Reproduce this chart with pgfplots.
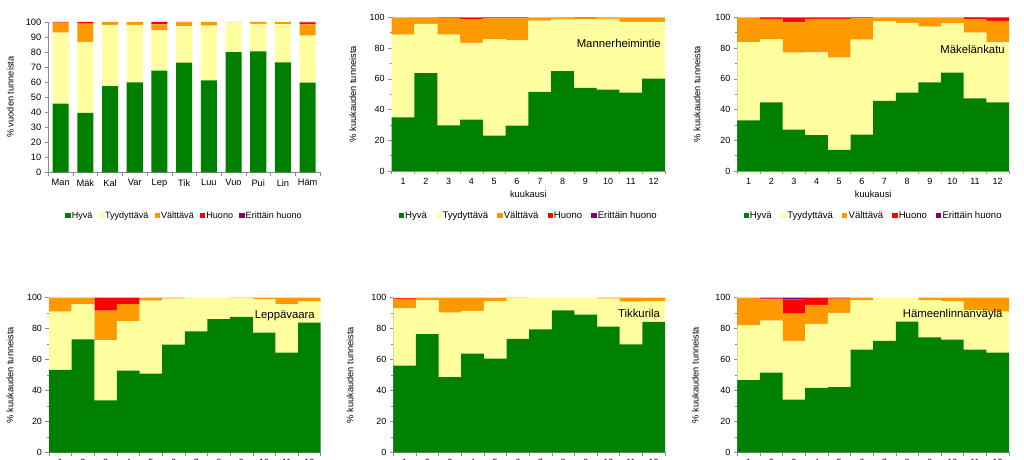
\documentclass[border=0pt]{standalone}
\usepackage{pgfplots}
\pgfplotsset{compat=1.18}
\usepackage{pgfplotstable}
\usepackage{fontspec}
\setmainfont{Liberation Sans}

\definecolor{cH}{RGB}{0,128,0}
\definecolor{cT}{RGB}{255,255,160}
\definecolor{cV}{RGB}{255,153,0}
\definecolor{cHu}{RGB}{255,0,0}
\definecolor{cE}{RGB}{128,0,128}

\pgfplotstableread{
x h t v hu eh
0 45.7 47.2 6.7 0.4 0
1 39.5 47.2 12.2 1.0 0.1
2 57.4 40.6 2.0 0 0
3 59.9 38.1 2.0 0 0
4 67.6 26.9 3.9 1.6 0
5 72.9 24.2 2.7 0.2 0
6 61.2 36.4 2.4 0 0
7 80.0 19.8 0.2 0 0
8 80.5 18.2 1.3 0 0
9 73.2 25.2 1.6 0 0
10 59.6 31.3 7.5 1.4 0.2
}\annual

\pgfplotstableread{
x h t v hu eh
1 34.9 53.8 11.3 0 0
2 63.6 32.1 4.1 0.2 0
3 29.7 59.0 10.8 0.5 0
4 33.4 49.9 15.5 1.0 0.2
5 23.0 62.7 13.6 0.6 0.1
6 29.5 55.5 14.3 0.6 0.1
7 51.4 46.4 2.2 0 0
8 64.9 33.8 1.3 0 0
9 54.0 44.7 0.9 0.1 0.3
10 52.9 46.0 1.1 0 0
11 51.0 46.0 3.0 0 0
12 60.1 36.9 3.0 0 0
}\mann

\pgfplotstableread{
x h t v hu eh
1 33.0 50.9 16.1 0 0
2 44.7 41.0 13.2 1.0 0.1
3 26.9 50.1 19.7 3.0 0.3
4 23.4 53.8 21.7 0.8 0.3
5 13.7 60.1 25.1 0.9 0.2
6 23.6 61.9 13.8 0.6 0.1
7 45.6 51.8 2.6 0 0
8 51.0 45.3 3.7 0 0
9 57.7 36.2 6.1 0 0
10 64.0 32.1 3.9 0 0
11 47.3 42.7 8.7 0.7 0.6
12 44.7 39.0 13.9 2.4 0
}\makel

\pgfplotstableread{
x h t v hu eh
1 53.5 37.5 9.0 0 0
2 73.1 22.8 4.1 0 0
3 33.8 38.9 18.9 8.4 0
4 52.9 32.0 11.0 4.1 0
5 51.0 47.1 1.9 0 0
6 69.7 29.7 0.6 0 0
7 78.3 21.7 0 0 0
8 86.2 13.8 0 0 0
9 87.7 12.0 0.3 0 0
10 77.4 21.5 1.1 0 0
11 64.5 31.2 4.3 0 0
12 83.9 13.7 2.4 0 0
}\lepp

\pgfplotstableread{
x h t v hu eh
1 56.0 37.1 6.3 0.6 0
2 76.5 22.0 1.5 0 0
3 48.7 41.6 9.7 0 0
4 63.8 27.6 8.6 0 0
5 60.6 37.0 2.4 0 0
6 73.3 26.5 0.2 0 0
7 79.5 20.5 0 0 0
8 91.8 8.2 0 0 0
9 89.0 11.0 0 0 0
10 81.3 18.1 0.6 0 0
11 69.8 27.6 2.6 0 0
12 84.3 13.5 2.2 0 0
}\tikk

\pgfplotstableread{
x h t v hu eh
1 46.6 35.5 17.9 0 0
2 51.5 33.6 13.8 0.6 0.5
3 34.1 37.9 17.7 9.2 1.1
4 41.6 41.4 12.3 4.7 0
5 42.2 47.9 9.3 0.6 0
6 66.4 32.1 1.5 0 0
7 72.0 28.0 0 0 0
8 84.5 15.5 0 0 0
9 74.4 24.1 1.5 0 0
10 72.8 24.8 2.4 0 0
11 66.4 25.6 8.0 0 0
12 64.4 26.6 9.0 0 0
}\hame

\newcommand{\fiveplots}[1]{%
\addplot[fill=cH] table[x=x,y=h]{#1};
\addplot[fill=cT] table[x=x,y=t]{#1};
\addplot[fill=cV] table[x=x,y=v]{#1};
\addplot[fill=cHu] table[x=x,y=hu]{#1};
\addplot[fill=cE] table[x=x,y=eh]{#1};
}

\pgfplotsset{
 panel/.style={
  scale only axis,
  ybar stacked, ymin=0, ymax=100,
  axis x line*=bottom, axis y line*=left,
  axis line style={draw=gray!90, -},
  tick style={draw=gray!90, line width=0.5bp},
  tick align=outside, major tick length=3.5bp, minor tick length=2bp,
  ticklabel style={font=\fontsize{9}{10}\selectfont},
  /pgf/number format/assume math mode=true,
  label style={font=\fontsize{9.3}{10}\selectfont},
  every axis plot/.append style={draw=none},
  legend image code/.code={\fill[##1] (0bp,-2.6bp) rectangle (5.2bp,2.6bp);},
  legend style={draw=none, fill=none, legend columns=-1, at={(0.5,-0.29)}, anchor=center,
    inner sep=0pt, nodes={inner sep=1.2bp},
    font=\fontsize{9.6}{10}\selectfont,
    /tikz/every even column/.append style={column sep=8bp}},
  xlabel style={at={(axis description cs:0.5,-0.153)}, anchor=center},
 },
 month/.style={panel, xmin=0.5, xmax=12.5, bar width=1,
  xtick={0.5,1.5,...,12.5}, xticklabels={1,2,3,4,5,6,7,8,9,10,11,12},
  x tick label as interval,
  ytick={0,20,...,100}, minor y tick num=1,
  ylabel={\% kuukauden tunneista}},
 station/.style n args={3}{after end axis/.append code={%
  \node[anchor=east, font=\fontsize{11.4}{12}\selectfont, inner sep=0pt] at (rel axis cs:#1,#2) {#3};}},
}

\begin{document}
\begin{tikzpicture}[x=1bp,y=1bp]
\useasboundingbox (0,0) rectangle (1024,460);
\clip (0,0) rectangle (1024,460);

% Panel 1: annual
\begin{axis}[panel, at={(48.3bp,287.7bp)}, anchor=south west,
  width=271.7bp, height=150.3bp,
  xmin=-0.5, xmax=10.5, bar width=0.65,
  xtick={-0.5,0.5,...,10.5},
  xticklabels={Man,Mäk,Kal,Var,Lep,Tik,Luu,Vuo,Pui,Lin,Häm},
  x tick label as interval,
  ticklabel style={font=\fontsize{9.3}{10}\selectfont},
  ytick={0,10,...,100},
  ylabel={\% vuoden tunneista},
  ylabel style={at={(axis description cs:-0.14,0.5)}, anchor=center},
  legend style={font=\fontsize{9.1}{10}\selectfont, /tikz/every even column/.append style={column sep=5bp}},
]
\fiveplots{\annual}
\legend{Hyvä,Tyydyttävä,Välttävä,Huono,Erittäin huono}
\end{axis}

% Panel 2: Mannerheimintie
\begin{axis}[month, at={(391.7bp,289bp)}, anchor=south west,
  width=273.3bp, height=153.7bp,
  xlabel={kuukausi},
  ylabel style={at={(axis description cs:-0.142,0.5)}, anchor=center},
  station={0.985}{0.833}{Mannerheimintie},
]
\fiveplots{\mann}
\legend{Hyvä,Tyydyttävä,Välttävä,Huono,Erittäin huono}
\end{axis}

% Panel 3: Mäkelänkatu
\begin{axis}[month, at={(737.3bp,289bp)}, anchor=south west,
  width=271.7bp, height=153.7bp,
  xlabel={kuukausi},
  ylabel style={at={(axis description cs:-0.148,0.5)}, anchor=center},
  station={0.985}{0.79}{Mäkelänkatu},
]
\fiveplots{\makel}
\legend{Hyvä,Tyydyttävä,Välttävä,Huono,Erittäin huono}
\end{axis}

% Panel 4: Leppävaara
\begin{axis}[month, at={(49bp,7.3bp)}, anchor=south west,
  width=271.7bp, height=155bp,
  ylabel style={at={(axis description cs:-0.143,0.5)}, anchor=center},
  station={0.979}{0.884}{Leppävaara},
]
\fiveplots{\lepp}
\end{axis}

% Panel 5: Tikkurila
\begin{axis}[month, at={(393.3bp,7.7bp)}, anchor=south west,
  width=271.7bp, height=154.6bp,
  ylabel style={at={(axis description cs:-0.159,0.5)}, anchor=center},
  station={0.982}{0.899}{Tikkurila},
]
\fiveplots{\tikk}
\end{axis}

% Panel 6: Hämeenlinnanväylä
\begin{axis}[month, at={(737.3bp,7.7bp)}, anchor=south west,
  width=271.7bp, height=154.6bp,
  ylabel style={at={(axis description cs:-0.155,0.5)}, anchor=center},
  station={0.977}{0.888}{Hämeenlinnanväylä},
]
\fiveplots{\hame}
\end{axis}
\end{tikzpicture}
\end{document}
